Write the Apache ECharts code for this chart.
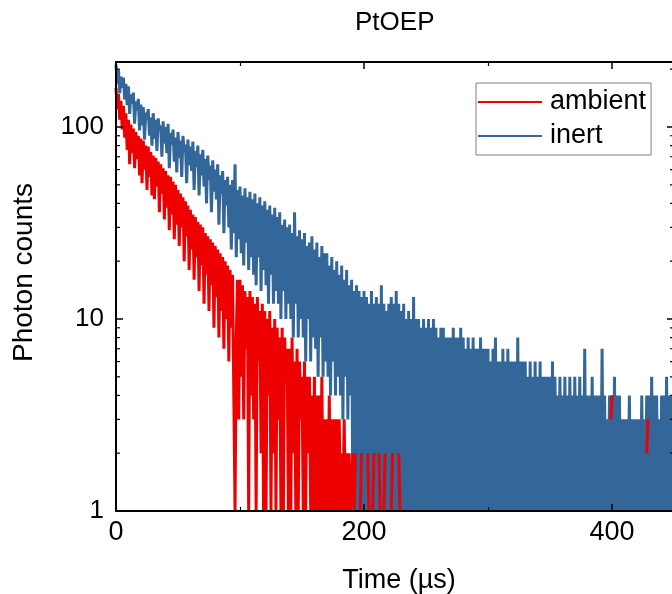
<!DOCTYPE html>
<html>
<head>
<meta charset="utf-8">
<script src="https://cdn.jsdelivr.net/npm/echarts@6/dist/echarts.min.js"></script>
<style>
html,body{margin:0;padding:0;background:#ffffff;}
#chart{width:672px;height:594px;}
</style>
</head>
<body>
<div id="chart"></div>
<script>
// ---------------- data ----------------
const titleText = 'PtOEP';
const xAxisName = 'Time (µs)';
const yAxisName = 'Photon counts';
const legendNames = ['ambient', 'inert'];
const binWidthUs = 1;                 // one histogram bin per µs
const xMin = 0, xMax = 450;
const yMin = 1, yMax = 218;
const xTickLabels = ['0', '200', '400'];
const yTickLabels = ['1', '10', '100'];
const yMinorTickValues = [2, 3, 4, 5, 6, 7, 8, 9, 20, 30, 40, 50, 60, 70, 80, 90, 200];

// inert (blue), t = 0 .. 450 µs
const inertCounts = [
  212,168,198,150,183,160,181,139,168,130,
  163,117,148,132,151,104,136,122,140,96,
  131,102,127,86,119,109,124,90,112,80,
  118,87,109,75,111,95,102,70,107,82,
  100,73,104,61,93,81,97,66,88,58,
  94,69,85,55,90,74,81,51,86,63,
  79,59,84,47,75,62,80,44,72,56,
  76,49,68,40,71,53,63,36,67,46,
  60,42,64,31,56,45,59,28,53,39,
  55,30,50,23,53,28,64,21,47,26,
  49,22,44,19,48,25,43,18,46,21,
  42,17,45,15,40,21,43,14,39,18,
  41,15,37,12,39,17,35,12,38,14,
  34,12,36,10,31,14,33,10,30,12,
  31,10,28,8,36,12,27,8,29,10,
  26,8,28,6,24,10,25,6,27,8,
  23,7,25,5,21,8,24,5,22,6,
  22,5,19,4,21,6,18,4,20,5,
  17,4,19,3,16,5,18,3,15,4,
  16,1,14,1,15,1,14,1,13,1,
  14,1,13,1,12,1,14,1,12,1,
  13,1,12,1,15,1,12,1,11,1,
  12,1,13,1,12,1,14,1,12,1,
  11,1,12,1,10,1,11,1,10,1,
  13,1,10,1,10,1,9,1,10,1,
  9,1,10,1,9,1,10,1,9,1,
  8,1,9,1,9,1,8,1,8,1,
  8,1,9,1,8,1,8,1,9,1,
  8,1,7,1,8,1,7,1,8,1,
  7,1,7,1,8,1,7,1,7,1,
  7,1,6,1,7,1,8,1,6,1,
  6,1,7,1,6,1,7,1,6,1,
  6,1,6,1,8,1,6,1,6,1,
  6,1,5,1,6,1,5,1,6,1,
  5,1,6,1,5,1,5,1,5,1,
  5,1,6,1,5,1,4,1,5,1,
  4,1,5,1,4,1,5,1,4,1,
  5,1,4,1,5,1,4,1,7,1,
  4,1,4,1,5,1,4,1,4,1,
  4,1,7,1,4,1,3,1,4,1,
  4,1,5,1,4,1,4,1,3,1,
  3,1,3,1,4,1,3,1,3,1,
  3,1,3,1,4,1,3,1,4,1,
  4,1,5,1,4,1,4,1,3,1,
  4,1,4,1,5,1,4,1,4,1,
  4
];

// ambient (red), t = 0 .. 229 µs (null = zero counts, not drawable on a log axis)
const ambientCounts = [
  160,124,149,109,137,97,129,88,118,76,
  109,64,103,73,98,61,94,68,90,56,
  87,51,85,60,80,47,79,55,74,44,
  71,42,69,49,66,36,64,45,61,33,
  59,38,56,29,55,35,52,26,50,31,
  47,24,45,30,43,20,41,27,39,18,
  37,23,35,16,34,21,32,14,31,19,
  30,12,28,17,27,11,26,15,25,9,
  24,13,23,8,22,11,21,7,20,10,
  19,6,18,9,17,4,1,8,16,3,
  16,5,15,3,14,7,13,1,14,4,
  13,3,12,1,13,6,11,2,12,1,
  11,1,10,4,11,1,9,2,10,1,
  9,3,8,1,9,1,8,5,7,1,
  7,1,8,2,6,1,7,1,6,3,
  5,1,6,1,5,2,5,1,4,1,
  5,1,4,1,4,1,5,1,3,1,
  3,1,4,1,3,1,3,1,3,1,
  3,1,2,1,3,1,2,1,2,1,
  1,2,1,2,null,null,null,1,2,null,
  1,null,null,2,1,null,null,1,2,null,
  null,null,2,1,null,null,1,2,null,null,
  null,null,1,2,null,null,null,null,2,1
];
// sparse late ambient counts
const ambientLateTimes  = [230, 399, 400, 401, 428, 429];
const ambientLateCounts = [null, 3, 4, null, 2, 3];

// ---------------- chart ----------------
const FONT = "'Liberation Sans', Arial, sans-serif";
const RED = '#EE0000';
const BLUE = '#336699';

const inertData = inertCounts.map((v, i) => [i * binWidthUs, v]);
const ambientData = ambientCounts.map((v, i) => [i * binWidthUs, v])
  .concat(ambientLateTimes.map((t, i) => [t, ambientLateCounts[i]]));

const chart = echarts.init(document.getElementById('chart'), null, {renderer: 'canvas'});

const axisLineStyle = {color: '#000', width: 2};
const xCommon = {
  type: 'value', min: xMin, max: xMax, interval: 200, z: 10,
  splitLine: {show: false},
  axisLine: {show: true, onZero: false, lineStyle: axisLineStyle},
  axisTick: {show: true, inside: true, length: 7, lineStyle: {color: '#000', width: 1.5}},
  minorTick: {show: true, splitNumber: 2, length: 4, lineStyle: {color: '#000', width: 1.2}},
  minorSplitLine: {show: false}
};
const yCommon = {
  type: 'log', min: yMin, max: yMax, logBase: 10, z: 10,
  splitLine: {show: false},
  axisLine: {show: true, onZero: false, lineStyle: axisLineStyle},
  axisTick: {show: true, inside: true, length: 7, lineStyle: {color: '#000', width: 1.5}},
  minorTick: {show: false}
};

const option = {
  animation: false,
  backgroundColor: '#ffffff',
  textStyle: {fontFamily: FONT},
  title: {
    text: titleText, left: 355, top: 10, padding: 0,
    textStyle: {fontFamily: FONT, fontSize: 26, fontWeight: 'normal', color: '#000'}
  },
  legend: {
    data: legendNames, orient: 'vertical', left: 476, top: 83,
    padding: [4, 5, 4, 2], itemGap: 4, itemWidth: 64, itemHeight: 2,
    icon: 'rect',
    borderColor: '#808080', borderWidth: 1, backgroundColor: '#ffffff',
    textStyle: {fontFamily: FONT, fontSize: 27, color: '#000', lineHeight: 30, padding: [0, 0, 0, 3]},
    selectedMode: false
  },
  grid: {left: 116, top: 62, right: -2, bottom: 83, containLabel: false, outerBoundsMode: 'none'},
  xAxis: [
    Object.assign({}, xCommon, {
      position: 'bottom',
      name: xAxisName, nameLocation: 'middle', nameGap: 56,
      nameTextStyle: {fontFamily: FONT, fontSize: 27, color: '#000', padding: [0, 0, 0, 8]},
      axisLabel: {show: true, margin: 8, fontFamily: FONT, fontSize: 27, color: '#000',
        formatter: v => xTickLabels.includes(String(v)) ? String(v) : ''}
    }),
    Object.assign({}, xCommon, {position: 'top', axisLabel: {show: false}})
  ],
  yAxis: [
    Object.assign({}, yCommon, {
      position: 'left',
      name: yAxisName, nameLocation: 'middle', nameGap: 78, nameRotate: 90,
      nameTextStyle: {fontFamily: FONT, fontSize: 28, color: '#000', padding: [0, 0, 0, 28]},
      axisLabel: {show: true, margin: 12, fontFamily: FONT, fontSize: 26, color: '#000',
        formatter: v => {
          const r = Math.round(v);
          return (Math.abs(v - r) < 1e-6 && yTickLabels.includes(String(r))) ? String(r) : '';
        }}
    }),
    Object.assign({}, yCommon, {position: 'right', axisLabel: {show: false}})
  ],
  series: [
    {
      name: 'inert', type: 'line', xAxisIndex: 0, yAxisIndex: 0,
      data: inertData, showSymbol: false, symbol: 'none', sampling: null,
      connectNulls: false, silent: true, z: 2,
      itemStyle: {color: BLUE}, lineStyle: {color: BLUE, width: 3}
    },
    {
      name: 'ambient', type: 'line', xAxisIndex: 0, yAxisIndex: 0,
      data: ambientData, showSymbol: false, symbol: 'none', sampling: null,
      connectNulls: false, silent: true, z: 3,
      itemStyle: {color: RED}, lineStyle: {color: RED, width: 3}
    },
    {
      name: 'yMinorTicks', type: 'custom', xAxisIndex: 0, yAxisIndex: 0,
      silent: true, z: 20, clip: false,
      data: yMinorTickValues.map(v => [xMin, v]),
      renderItem: (params, api) => {
        const v = api.value(1);
        const a = api.coord([xMin, v]);
        const b = api.coord([xMax, v]);
        const len = 4;
        return {
          type: 'group',
          children: [
            {type: 'line', shape: {x1: a[0], y1: a[1], x2: a[0] + len, y2: a[1]}, style: {stroke: '#000', lineWidth: 1.2}},
            {type: 'line', shape: {x1: b[0], y1: b[1], x2: b[0] - len, y2: b[1]}, style: {stroke: '#000', lineWidth: 1.2}}
          ]
        };
      }
    }
  ]
};
chart.setOption(option);
</script>
</body>
</html>
